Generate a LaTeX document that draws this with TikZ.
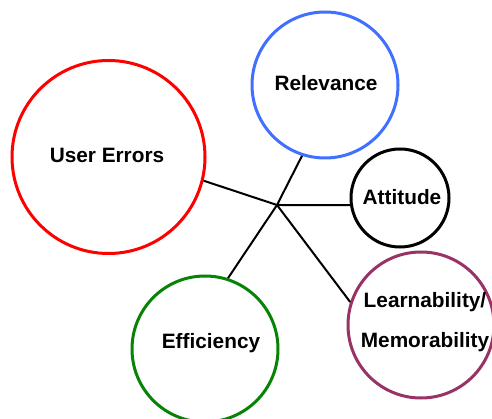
\documentclass[tikz,border=0pt]{standalone}
\usepackage{fontspec}
\setmainfont{Liberation Sans}
\definecolor{cred}{HTML}{FF0000}
\definecolor{cblue}{HTML}{416FFF}
\definecolor{cgreen}{HTML}{078407}
\definecolor{cplum}{HTML}{993366}
\begin{document}
\begin{tikzpicture}[x=1pt,y=-1pt,
  ring/.style={circle,draw,line width=3pt,inner sep=0pt,minimum size=#1},
  lbl/.style={font=\fontsize{20.8}{40}\selectfont\bfseries,inner sep=0pt,align=center},
  link/.style={line width=2pt,black}]
\useasboundingbox (0,0) rectangle (492,419);
\node[ring=193pt,draw=cred] (ue) at (108.5,157) {};
\node[ring=146pt,draw=cblue] (rel) at (325,85) {};
\node[ring=98pt,draw=black] (att) at (400,198) {};
\node[ring=146pt,draw=cgreen] (eff) at (205,349) {};
\node[ring=146pt,draw=cplum] (learn) at (421,325) {};
\node[lbl] (ueT) at (107,155) {User Errors};
\node[lbl] (relT) at (326,83) {Relevance};
\node[lbl] (attT) at (402,197) {Attitude};
\node[lbl] (effT) at (211,343) {Efficiency};
\node[lbl] (learnT) at (425,322) {Learnability/\\Memorability};
\coordinate (hub) at (277,205);
\draw[link] (hub) -- (ue.-14.5);
\draw[link] (hub) -- (rel.-108);
\draw[link] (hub) -- (att.188);
\draw[link] (hub) -- (eff.72);
\draw[link] (hub) -- (learn.162);
\end{tikzpicture}
\end{document}
